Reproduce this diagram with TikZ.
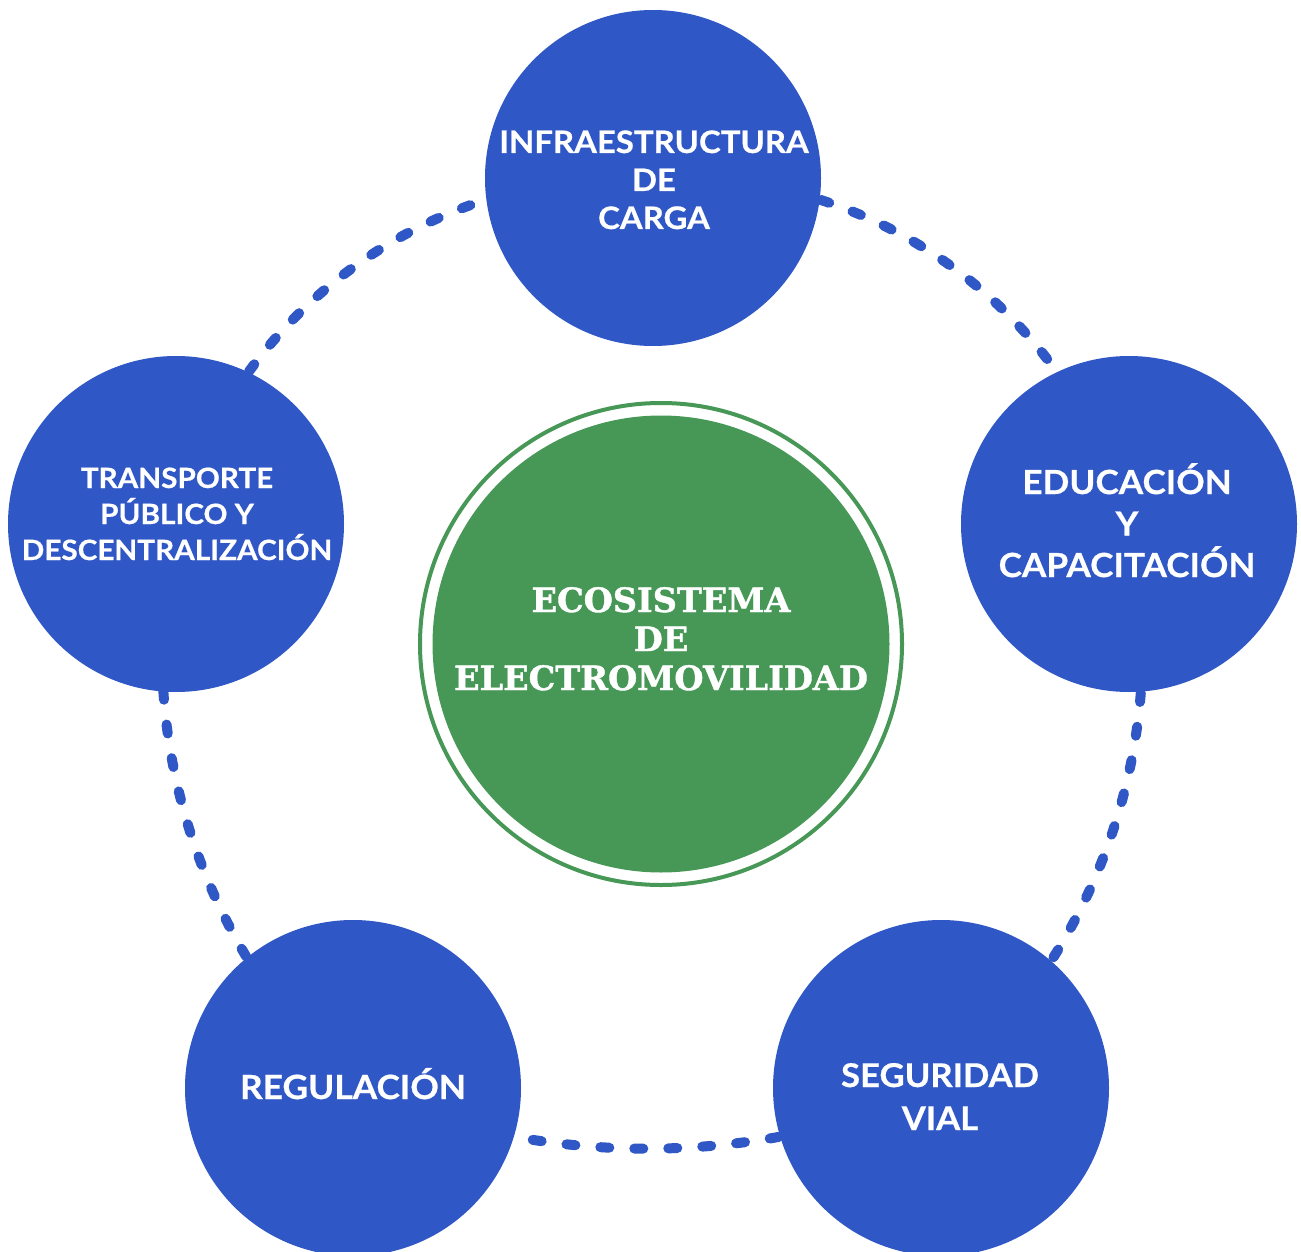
\documentclass[tikz,border=0pt]{standalone}
\usepackage{fontspec}
\setmainfont{Lato}[BoldFeatures={FakeStretch=1.06,FakeBold=0.6}]
\newfontfamily\slabfont{DejaVu Serif}[BoldFeatures={FakeBold=1.2}]
\usetikzlibrary{backgrounds}
\definecolor{cblue}{HTML}{2F57C6}
\definecolor{cgreen}{HTML}{479857}
\begin{document}
\begin{tikzpicture}[x=1pt,y=-1pt,
  bluecirc/.style={circle,fill=cblue,minimum size=336pt,inner sep=0pt},
  bluetext/.style={text=white,align=center,anchor=base,inner sep=0pt},
  dashlink/.style={draw=cblue,line width=10pt,line cap=round,dash pattern=on 9pt off 25pt},
]
\useasboundingbox (0,0) rectangle (1301,1252);
\clip (0,0) rectangle (1301,1252);

% blue circles
\node[bluecirc] (top)   at (653,178)  {};
\node[bluecirc] (right) at (1129,524) {};
\node[bluecirc] (left)  at (176,524)  {};
\node[bluecirc] (bl)    at (353,1088) {};
\node[bluecirc] (br)    at (941,1088) {};

% central circle
\node[circle,draw=cgreen,line width=4pt,minimum size=482pt,inner sep=0pt] (ring) at (661,644) {};
\node[circle,fill=cgreen,minimum size=457pt,inner sep=0pt] (eco) at (ring.center) {};

% texts (anchor base = baseline of the last line)
\node[bluetext,font=\bfseries\fontsize{31}{38}\selectfont] (ttop) at (654,229)
  {INFRAESTRUCTURA\\DE\\CARGA};
\node[bluetext,font=\bfseries\fontsize{33.2}{41.5}\selectfont] (tright) at (1127,577)
  {EDUCACIÓN\\Y\\CAPACITACIÓN};
\node[bluetext,font=\bfseries\fontsize{28}{36}\selectfont] (tleft) at (177,560)
  {TRANSPORTE\\PÚBLICO Y\\DESCENTRALIZACIÓN};
\node[bluetext,font=\bfseries\fontsize{33.3}{40}\selectfont] (tbl) at (353,1099)
  {REGULACIÓN};
\node[bluetext,font=\bfseries\fontsize{32.7}{43}\selectfont] (tbr) at (940,1130)
  {SEGURIDAD\\VIAL};
\node[bluetext,font=\slabfont\bfseries\fontsize{33.5}{39}\selectfont] (teco) at (661,690)
  {ECOSISTEMA\\DE\\ELECTROMOVILIDAD};

% dashed links behind
\begin{scope}[on background layer]
  \fill[white] (0,0) rectangle (1301,1252);
  \draw[dashlink] (top.center)   to[bend left=39,looseness=0.956] (right.center);
  \draw[dashlink] (right.center) to[bend left=31,looseness=0.91]  (br.center);
  \draw[dashlink] (br.center)    to[bend left=23.4,looseness=0.888] (bl.center);
  \draw[dashlink] (bl.center)    to[bend left=30,looseness=0.91]  (left.center);
  \draw[dashlink] (left.center)  to[bend left=39,looseness=0.956] (top.center);
\end{scope}
\end{tikzpicture}
\end{document}
